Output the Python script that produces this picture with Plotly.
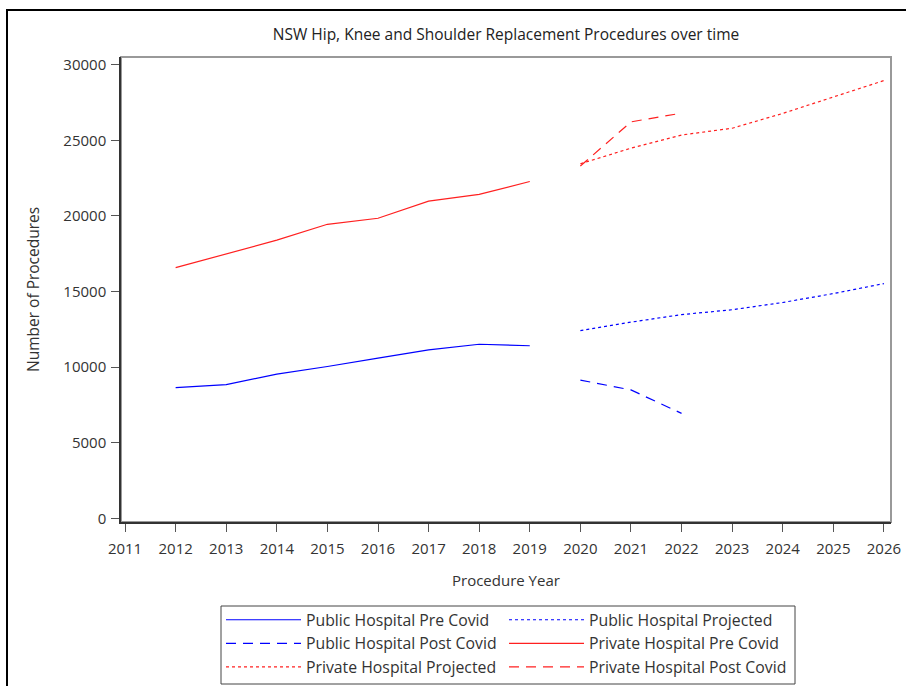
import plotly.graph_objects as go

# ---- data ----
years_pre = [2012, 2013, 2014, 2015, 2016, 2017, 2018, 2019]
years_post = [2020, 2021, 2022]
years_proj = [2020, 2021, 2022, 2023, 2024, 2025, 2026]

public_pre = [8650, 8850, 9550, 10050, 10600, 11150, 11520, 11420]
public_post = [9150, 8500, 6950]
public_proj = [12420, 12980, 13480, 13800, 14280, 14870, 15530]

private_pre = [16580, 17500, 18400, 19450, 19850, 20980, 21430, 22280]
private_post = [23300, 26220, 26800]
private_proj = [23450, 24480, 25350, 25800, 26780, 27850, 28950]

x_ticks = list(range(2011, 2027))
y_ticks = [0, 5000, 10000, 15000, 20000, 25000, 30000]

title = "NSW Hip, Knee and Shoulder Replacement Procedures over time"
x_title = "Procedure Year"
y_title = "Number of Procedures"

BLUE = "#0000FF"
RED = "#FF2020"
FONT = "Open Sans"
TXT = "#333333"
LW = 1.2

fig = go.Figure()
DOT = "3px,3px"
DASH = "10px,7px"

fig.add_trace(go.Scatter(x=years_pre, y=public_pre, mode="lines",
                         name="Public Hospital Pre Covid",
                         line=dict(color=BLUE, width=LW)))
fig.add_trace(go.Scatter(x=years_proj, y=public_proj, mode="lines",
                         name="Public Hospital Projected",
                         line=dict(color=BLUE, width=LW, dash=DOT)))
fig.add_trace(go.Scatter(x=years_post, y=public_post, mode="lines",
                         name="Public Hospital Post Covid",
                         line=dict(color=BLUE, width=LW, dash=DASH)))
fig.add_trace(go.Scatter(x=years_pre, y=private_pre, mode="lines",
                         name="Private Hospital Pre Covid",
                         line=dict(color=RED, width=LW)))
fig.add_trace(go.Scatter(x=years_proj, y=private_proj, mode="lines",
                         name="Private Hospital Projected",
                         line=dict(color=RED, width=LW, dash=DOT)))
fig.add_trace(go.Scatter(x=years_post, y=private_post, mode="lines",
                         name="Private Hospital Post Covid",
                         line=dict(color=RED, width=LW, dash=DASH)))

L, R, T, B = 121, 15, 57, 164
W, H = 906, 686
PW, PH = W - L - R, H - T - B

def px_x(p):
    return (p - L) / PW

def px_y(p):
    return (H - B - p) / PH

fig.update_layout(
    width=W, height=H,
    margin=dict(l=L, r=R, t=T, b=B, autoexpand=False),
    paper_bgcolor="white", plot_bgcolor="white",
    font=dict(family=FONT, size=15, color=TXT),
    title=dict(text=title, x=0.5, xref="paper", y=1 - 35 / H,
               yanchor="middle", xanchor="center",
               font=dict(family=FONT, size=15.5, color="#222222")),
    xaxis=dict(range=[2010.92, 2026.14], tickmode="array", tickvals=x_ticks,
               ticktext=[str(v) for v in x_ticks],
               showgrid=False, zeroline=False, showline=True,
               linecolor="#333333", linewidth=1.5, ticks="outside",
               ticklen=8, tickcolor="#555555", tickwidth=1,
               ticklabelstandoff=4,
               tickfont=dict(size=15, color=TXT)),
    yaxis=dict(range=[-231, 30509], tickmode="array", tickvals=y_ticks,
               ticktext=[str(v) for v in y_ticks],
               showgrid=False, zeroline=False, showline=True,
               linecolor="#333333", linewidth=1.5, ticks="outside",
               ticklen=8, tickcolor="#555555", tickwidth=1,
               ticklabelstandoff=2,
               tickfont=dict(size=15, color=TXT)),
    showlegend=True,
    legend=dict(orientation="h", x=px_x(221), y=px_y(603),
                xanchor="left", yanchor="top",
                bgcolor="rgba(0,0,0,0)", borderwidth=0,
                entrywidth=193, entrywidthmode="pixels",
                itemwidth=75, tracegroupgap=0,
                font=dict(family=FONT, size=15.8, color=TXT)),
    annotations=[
        dict(text=x_title, xref="paper", yref="paper", x=0.5, y=px_y(580),
             xanchor="center", yanchor="middle", showarrow=False,
             font=dict(family=FONT, size=15, color=TXT)),
        dict(text=y_title, xref="paper", yref="paper", x=px_x(33), y=px_y(290),
             xanchor="center", yanchor="middle", showarrow=False, textangle=-90,
             font=dict(family=FONT, size=15.5, color=TXT)),
    ],
    shapes=[
        dict(type="rect", xref="paper", yref="paper", x0=0, x1=1, y0=0, y1=1,
             line=dict(color="#999999", width=2), layer="below"),
        dict(type="rect", xref="paper", yref="paper", x0=px_x(221), x1=px_x(795),
             y0=px_y(684), y1=px_y(606), line=dict(color="#444444", width=1),
             layer="below"),
        dict(type="line", xref="paper", yref="paper", x0=px_x(6), x1=px_x(906),
             y0=px_y(10), y1=px_y(10), line=dict(color="black", width=2)),
        dict(type="line", xref="paper", yref="paper", x0=px_x(7), x1=px_x(7),
             y0=px_y(10), y1=px_y(690), line=dict(color="black", width=2)),
    ],
)

fig.write_html(
    "out.html",
    config={"displayModeBar": False},
    post_script="document.body.style.margin='0';document.body.style.overflow='hidden';",
)
